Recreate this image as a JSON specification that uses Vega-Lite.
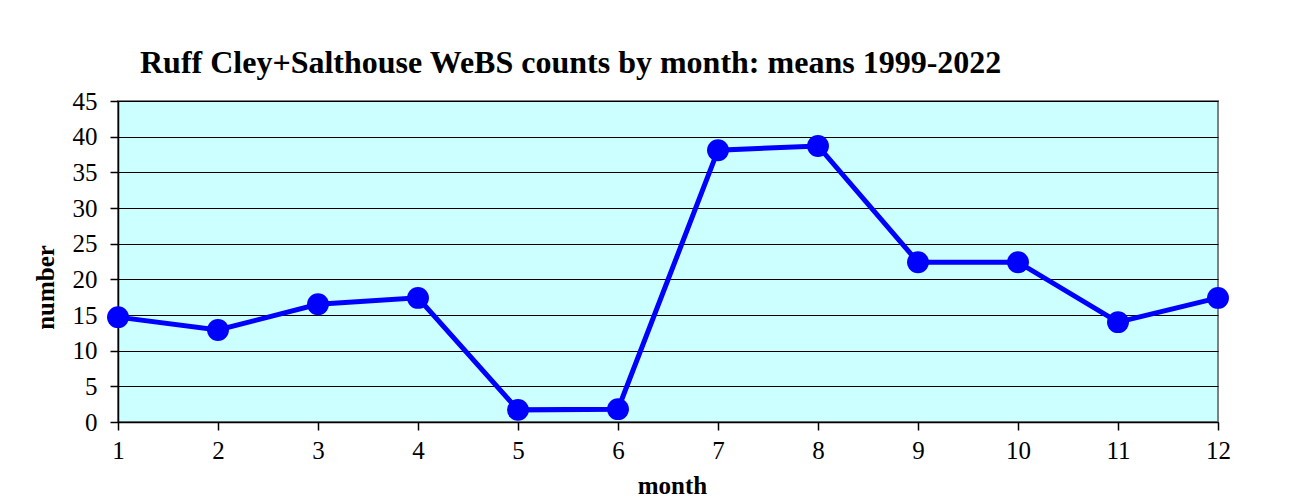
{
  "$schema": "https://vega.github.io/schema/vega-lite/v6.json",
  "autosize": "none",
  "width": 1100,
  "height": 321,
  "padding": {"left": 118, "top": 101, "right": 78, "bottom": 78},
  "background": "white",
  "title": {
    "text": "Ruff Cley+Salthouse WeBS counts by month: means 1999-2022",
    "anchor": "start",
    "frame": "group",
    "dx": 22,
    "offset": 9,
    "font": "Liberation Serif",
    "fontSize": 32,
    "fontWeight": "bold",
    "color": "black"
  },
  "config": {
    "view": {"fill": "#CCFFFF", "stroke": "#808080", "strokeWidth": 2},
    "axis": {
      "labelFont": "Liberation Serif",
      "labelFontSize": 25,
      "labelColor": "black",
      "titleFont": "Liberation Serif",
      "titleFontSize": 25,
      "titleFontWeight": "bold",
      "titleColor": "black",
      "domainColor": "black",
      "domainWidth": 1.5,
      "tickColor": "black",
      "tickWidth": 1.5,
      "tickSize": 8
    }
  },
  "data": {
    "values": [
      {"month": 1, "number": 14.7},
      {"month": 2, "number": 12.9},
      {"month": 3, "number": 16.5},
      {"month": 4, "number": 17.4},
      {"month": 5, "number": 1.7},
      {"month": 6, "number": 1.8},
      {"month": 7, "number": 38.1},
      {"month": 8, "number": 38.7},
      {"month": 9, "number": 22.4},
      {"month": 10, "number": 22.4},
      {"month": 11, "number": 14.0},
      {"month": 12, "number": 17.4}
    ]
  },
  "encoding": {
    "x": {
      "field": "month",
      "type": "quantitative",
      "scale": {"domain": [1, 12], "nice": false, "zero": false},
      "axis": {
        "values": [1, 2, 3, 4, 5, 6, 7, 8, 9, 10, 11, 12],
        "grid": false,
        "labelPadding": 8,
        "labelFlush": false,
        "title": "month",
        "titleX": 554,
        "titleY": 63,
        "titleBaseline": "middle"
      }
    },
    "y": {
      "field": "number",
      "type": "quantitative",
      "scale": {"domain": [0, 45], "nice": false},
      "axis": {
        "values": [0, 5, 10, 15, 20, 25, 30, 35, 40, 45],
        "grid": true,
        "gridColor": "black",
        "gridWidth": 1,
        "gridOpacity": 1,
        "labelPadding": 13,
        "labelFlush": false,
        "title": "number",
        "titleX": -73,
        "titleY": 186,
        "titleAngle": -90,
        "titleAlign": "center",
        "titleBaseline": "middle"
      }
    }
  },
  "layer": [
    {"mark": {"type": "line", "color": "#0000FF", "strokeWidth": 5}},
    {"mark": {"type": "point", "filled": true, "shape": "circle", "color": "#0000FF", "size": 480, "opacity": 1}}
  ]
}
